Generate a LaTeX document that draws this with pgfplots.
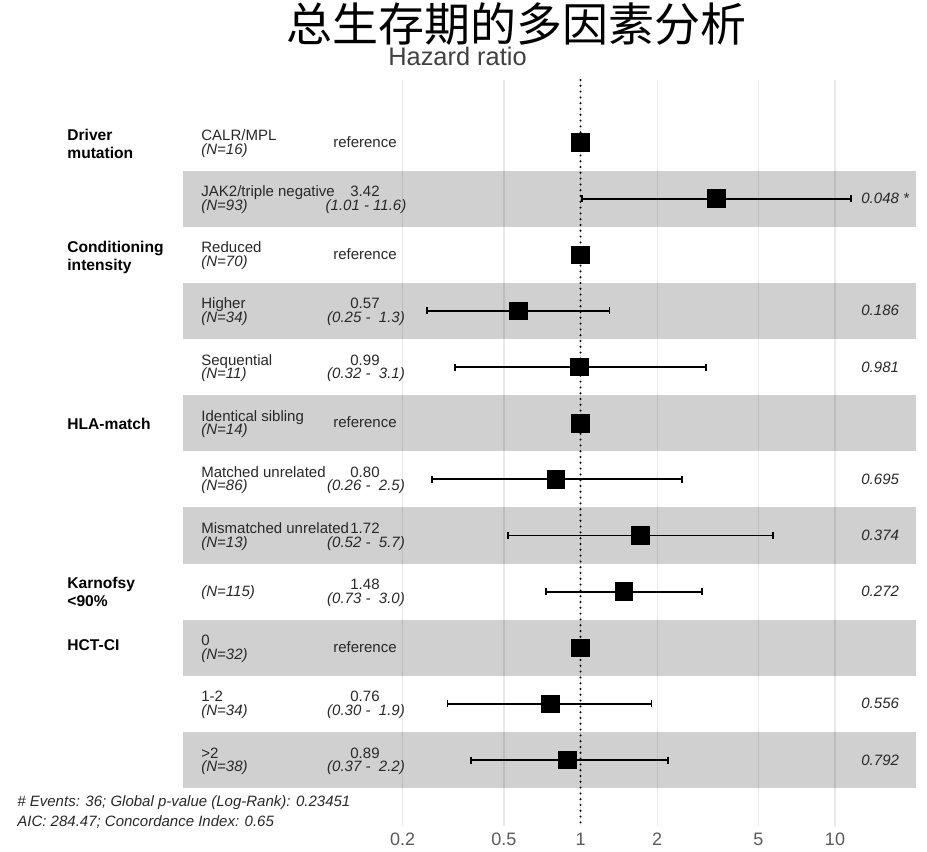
\documentclass[border=0pt]{standalone}
\usepackage{pgfplots}
\pgfplotsset{compat=1.18}
\usepackage{pgfplotstable}
\usepackage{fontspec}
\setmainfont{Liberation Sans}
\newfontfamily\cjk{Noto Sans CJK SC}
\definecolor{bandgray}{RGB}{208,208,208}
\definecolor{txt}{RGB}{40,40,40}

\pgfplotstableread{
row hr
1 1
2 3.42
3 1
4 0.57
5 0.99
6 1
7 0.80
8 1.72
9 1.48
10 1
11 0.76
12 0.89
}\hrtab

\newcommand\lf{\fontsize{7.5}{9}\selectfont}
\newcommand\gf{\fontsize{7.8}{9}\selectfont\bfseries}
% level name + N
\newcommand\lev[3]{%
  \node[anchor=base west,inner sep=0pt,text=txt] at (201,#1-2) {\lf #2};
  \node[anchor=base west,inner sep=0pt,text=txt] at (201,#1+11.5) {\lf\itshape #3};}
\newcommand\est[3]{%
  \node[anchor=base,inner sep=0pt,text=txt] at (365,#1-2) {\lf #2};
  \node[anchor=base,inner sep=0pt,text=txt] at (366,#1+11.5) {\lf\itshape #3};}
\newcommand\refer[1]{%
  \node[anchor=base,inner sep=0pt,text=txt] at (365,#1+4.5) {\lf reference};}
\newcommand\pv[2]{%
  \node[anchor=base west,inner sep=0pt,text=txt] at (861,#1+5) {\lf\itshape #2};}

\begin{document}
\begin{tikzpicture}[x=0.5pt,y=-0.5pt]
\path (0,0) rectangle (927,847);
\begin{axis}[
  at={(91.5pt,-413pt)}, anchor=south west,
  scale only axis, width=366.5pt, height=373pt,
  xmode=log, xmin=0.02741, xmax=20.81,
  ymin=-0.1133, ymax=13.175, y dir=reverse,
  xtick={0.2,0.5,1,2,5,10},
  xticklabels={0.2,0.5,1,2,5,10},
  ytick=\empty,
  xmajorgrids,
  grid style={black, opacity=0.09, line width=0.6pt},
  axis line style={draw=none},
  major tick length=0pt,
  xticklabel style={font=\fontsize{9}{10}\selectfont, text=black!65, anchor=base, yshift=-9.5pt},
  clip=false,
  axis on top,
]
% alternating bands
\addplot[draw=none, fill=bandgray] coordinates {(0.02741,1.5) (20.81,1.5) (20.81,2.5) (0.02741,2.5)} -- cycle;
\addplot[draw=none, fill=bandgray] coordinates {(0.02741,3.5) (20.81,3.5) (20.81,4.5) (0.02741,4.5)} -- cycle;
\addplot[draw=none, fill=bandgray] coordinates {(0.02741,5.5) (20.81,5.5) (20.81,6.5) (0.02741,6.5)} -- cycle;
\addplot[draw=none, fill=bandgray] coordinates {(0.02741,7.5) (20.81,7.5) (20.81,8.5) (0.02741,8.5)} -- cycle;
\addplot[draw=none, fill=bandgray] coordinates {(0.02741,9.5) (20.81,9.5) (20.81,10.5) (0.02741,10.5)} -- cycle;
\addplot[draw=none, fill=bandgray] coordinates {(0.02741,11.5) (20.81,11.5) (20.81,12.5) (0.02741,12.5)} -- cycle;
% reference line at 1
\addplot[black, line width=1.1pt, line cap=round, dash pattern=on 0pt off 2.9pt] coordinates {(1,-0.1133) (1,13.175)};
% confidence intervals
\pgfplotsset{ci/.style={black, line width=0.95pt, mark=|, mark size=1.75pt, mark options={solid, line width=0.95pt}}}
\addplot[ci] coordinates {(1.01,2) (11.6,2)};
\addplot[ci] coordinates {(0.25,4) (1.3,4)};
\addplot[ci] coordinates {(0.32,5) (3.1,5)};
\addplot[ci] coordinates {(0.26,7) (2.5,7)};
\addplot[ci] coordinates {(0.52,8) (5.7,8)};
\addplot[ci] coordinates {(0.73,9) (3.0,9)};
\addplot[ci] coordinates {(0.30,11) (1.9,11)};
\addplot[ci] coordinates {(0.37,12) (2.2,12)};
% point estimates
\addplot[only marks, mark=square*, mark size=4.4pt, black] table[x=hr, y=row] {\hrtab};
\end{axis}

% titles
\node[anchor=center, inner sep=0pt] at (516,24) {\cjk\fontsize{23}{26}\selectfont 总生存期的多因素分析};
\node[anchor=base, inner sep=0pt, text=black!75] at (457.5,65) {\fontsize{12.7}{14}\selectfont Hazard ratio};

% group labels
\node[anchor=base west,inner sep=0pt] at (67,140) {\gf Driver};
\node[anchor=base west,inner sep=0pt] at (67,158) {\gf mutation};
\node[anchor=base west,inner sep=0pt] at (67,252) {\gf Conditioning};
\node[anchor=base west,inner sep=0pt] at (67,270) {\gf intensity};
\node[anchor=base west,inner sep=0pt] at (67,429.5) {\gf HLA-match};
\node[anchor=base west,inner sep=0pt] at (67,588) {\gf Karnofsy};
\node[anchor=base west,inner sep=0pt] at (67,606) {\gf <90\%};
\node[anchor=base west,inner sep=0pt] at (67,650) {\gf HCT-CI};

% rows
\lev{142.5}{CALR/MPL}{(N=16)}
\refer{142.5}
\lev{198.6}{JAK2/triple negative}{(N=93)}
\est{198.6}{3.42}{(1.01 - 11.6)}
\pv{198.6}{0.048 *}
\lev{254.8}{Reduced}{(N=70)}
\refer{254.8}
\lev{310.9}{Higher}{(N=34)}
\est{310.9}{0.57}{(0.25 -\ \ 1.3)}
\pv{310.9}{0.186}
\lev{367.1}{Sequential}{(N=11)}
\est{367.1}{0.99}{(0.32 -\ \ 3.1)}
\pv{367.1}{0.981}
\lev{423.2}{Identical sibling}{(N=14)}
\refer{423.2}
\lev{479.3}{Matched unrelated}{(N=86)}
\est{479.3}{0.80}{(0.26 -\ \ 2.5)}
\pv{479.3}{0.695}
\lev{535.5}{Mismatched unrelated}{(N=13)}
\est{535.5}{1.72}{(0.52 -\ \ 5.7)}
\pv{535.5}{0.374}
\node[anchor=base west,inner sep=0pt,text=txt] at (201,596) {\lf\itshape (N=115)};
\est{591.6}{1.48}{(0.73 -\ \ 3.0)}
\pv{591.6}{0.272}
\lev{647.8}{0}{(N=32)}
\refer{647.8}
\lev{703.9}{1-2}{(N=34)}
\est{703.9}{0.76}{(0.30 -\ \ 1.9)}
\pv{703.9}{0.556}
\lev{760.0}{>2}{(N=38)}
\est{760.0}{0.89}{(0.37 -\ \ 2.2)}
\pv{760.0}{0.792}

% footer
\node[anchor=base west,inner sep=0pt,text=txt] at (17,806) {\lf\itshape \# Events: 36; Global p-value (Log-Rank): 0.23451};
\node[anchor=base west,inner sep=0pt,text=txt] at (17,826) {\lf\itshape AIC: 284.47; Concordance Index: 0.65};
\end{tikzpicture}
\end{document}
